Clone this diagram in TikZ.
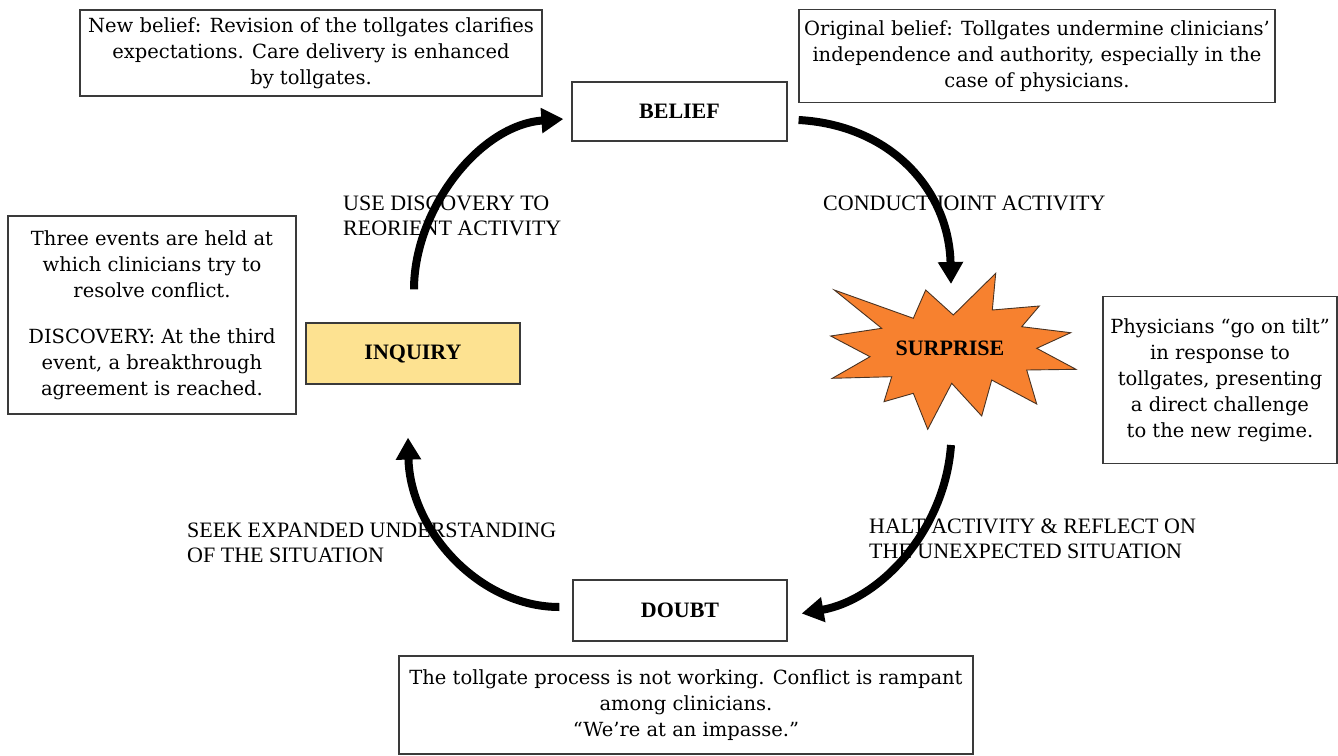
\documentclass[tikz,border=0pt]{standalone}
\usepackage{fontspec}
\setmainfont{Liberation Serif}
\newfontfamily\descfont{DejaVu Serif}
\usetikzlibrary{arrows.meta,calc}

\definecolor{boxline}{HTML}{3A3A3A}
\definecolor{burst}{HTML}{F7812F}
\definecolor{burstline}{HTML}{4A3322}
\definecolor{inqfill}{HTML}{FDE291}

\tikzset{
  descbox/.style={draw=boxline, line width=1.2pt, fill=white, align=center,
    inner sep=0pt, font=\descfont\fontsize{19.5}{26}\selectfont},
  stagebox/.style={draw=boxline, line width=1.2pt, fill=white, inner sep=0pt,
    font=\bfseries\fontsize{22}{25}\selectfont},
  lbl/.style={align=left, inner sep=0pt, anchor=base west,
    font=\fontsize{22}{25}\selectfont},
  cyc/.style={line width=8pt, -{Triangle[length=22pt,width=24pt]}},
  burstshape/.style={fill=burst, draw=burstline, line width=0.9pt, line join=miter},
}

\begin{document}
\begin{tikzpicture}[x=1pt,y=-1pt]
\useasboundingbox (0,0) rectangle (1338,755);

% explanatory boxes
\node[descbox, minimum width=462pt, minimum height=86pt] (newb) at (311,53)
  {New belief: Revision of the tollgates clarifies\\expectations. Care delivery is enhanced\\by tollgates.};
\node[descbox, minimum width=476pt, minimum height=93pt] (origb) at (1037,56)
  {Original belief: Tollgates undermine clinicians’\\independence and authority, especially in the\\case of physicians.};
\node[descbox, minimum width=288pt, minimum height=198pt] (events) at (152,315)
  {Three events are held at\\which clinicians try to\\resolve conflict.\\[20pt]DISCOVERY: At the third\\event, a breakthrough\\agreement is reached.};
\node[descbox, minimum width=234pt, minimum height=167pt] (tilt) at (1220,380)
  {Physicians “go on tilt”\\in response to\\tollgates, presenting\\a direct challenge\\to the new regime.};
\node[descbox, minimum width=574pt, minimum height=98pt] (impasse) at (686,705)
  {The tollgate process is not working. Conflict is rampant\\among clinicians.\\“We’re at an impasse.”};

% stages of the cycle
\node[stagebox, minimum width=215pt, minimum height=59pt] (belief) at (679.5,111.5) {BELIEF};
\node[stagebox, fill=inqfill, minimum width=214pt, minimum height=61pt] (inquiry) at (413,353.5) {INQUIRY};
\node[stagebox, minimum width=214pt, minimum height=61pt] (doubt) at (680,610.5) {DOUBT};

\draw[burstshape] (834.3,290) -- (913.3,318.3) -- (925.7,290) -- (953.3,315)
  -- (995.7,273.3) -- (992.3,310) -- (1039.3,306) -- (1021.7,326.7)
  -- (1070.7,332.7) -- (1036.7,348.3) -- (1076,369.3) -- (1026.7,370)
  -- (1036.7,404) -- (991.7,380) -- (981.7,416) -- (951.7,383.3)
  -- (927.7,429.3) -- (913.3,393.3) -- (884,401.7) -- (891.7,376.7)
  -- (832.3,378.3) -- (870,356.7) -- (830.7,336) -- (881.7,328.3) -- cycle;
\node[font=\bfseries\fontsize{22}{25}\selectfont, inner sep=0pt] (surprise) at (950,348) {SURPRISE};

% arrow labels (anchored at the baseline of their last line)
\node[lbl] (l1) at (343,235) {USE DISCOVERY TO\\REORIENT ACTIVITY};
\node[lbl] (l2) at (823,210) {CONDUCT JOINT ACTIVITY};
\node[lbl] (l3) at (869,558) {HALT ACTIVITY \& REFLECT ON\\THE UNEXPECTED SITUATION};
\node[lbl] (l4) at (187,562) {SEEK EXPANDED UNDERSTANDING\\OF THE SITUATION};

% the cycle
\draw[cyc] ($(belief.east)+(11,8.5)$) .. controls +(92,5) and +(-2,-94) .. ($(surprise.center)+(1,-64)$);
\draw[cyc] ($(surprise.center)+(1,97)$) .. controls +(-6,85) and +(79,-14) .. ($(doubt.east)+(14,3)$);
\draw[cyc] ($(doubt.west)+(-13,-3.5)$) .. controls +(-80,0) and +(2,93) .. ($(inquiry.south)+(-5,53)$);
\draw[cyc] ($(inquiry.north)+(1,-33)$) .. controls +(0,-80) and +(-84,6) .. ($(belief.west)+(-8,7.5)$);
\end{tikzpicture}
\end{document}
